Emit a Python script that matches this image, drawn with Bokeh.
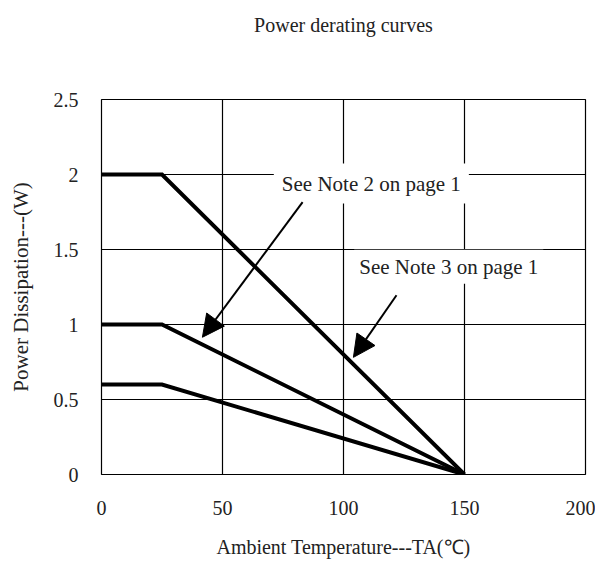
from bokeh.plotting import figure
from bokeh.models import Range1d, FixedTicker, Label, Arrow, NormalHead, LinearAxis
from bokeh.embed import file_html
from bokeh.resources import INLINE

# ---- data ----
temps = [0, 25, 150]
power_2w = [2.0, 2.0, 0.0]
power_1w = [1.0, 1.0, 0.0]
power_06w = [0.6, 0.6, 0.0]
x_ticks = [0, 50, 100, 150, 200]
y_ticks = [0, 0.5, 1.0, 1.5, 2.0, 2.5]
y_tick_labels = {0: "0", 0.5: "0.5", 1.0: "1", 1.5: "1.5", 2.0: "2", 2.5: "2.5"}
note2 = "See Note 2 on page 1"
note3 = "See Note 3 on page 1"
title_text = "Power derating curves"
y_label = "Power Dissipation---(W)"
x_label = "Ambient Temperature---TA(\u2103)"

FONT = "Liberation Serif"

p = figure(width=595, height=562, output_backend="svg", toolbar_location=None,
           x_range=Range1d(0, 200), y_range=Range1d(0, 2.5),
           min_border_left=101, min_border_right=10, min_border_top=99, min_border_bottom=88)
p.title.text = ""

xa = p.below[0]
ya = p.left[0]

# title drawn as the label of an empty axis above the frame
top_axis = LinearAxis(ticker=FixedTicker(ticks=[]), axis_label=title_text,
                      axis_line_color=None, major_tick_line_color=None, minor_tick_line_color=None,
                      major_tick_out=0, major_tick_in=0, minor_tick_out=0, minor_tick_in=0,
                      major_label_standoff=0, major_label_text_font_size="0px",
                      axis_label_text_font=FONT, axis_label_text_font_size="20px",
                      axis_label_text_font_style="normal", axis_label_text_color="#222222",
                      axis_label_standoff=64)
p.add_layout(top_axis, "above")

p.background_fill_color = "white"
p.border_fill_color = "white"
p.outline_line_color = "black"
p.outline_line_width = 1.2

for ax in (xa, ya):
    ax.axis_line_color = None
    ax.major_tick_line_color = None
    ax.minor_tick_line_color = None
    ax.major_label_text_font = FONT
    ax.major_label_text_font_size = "20px"
    ax.major_label_text_color = "#222222"

xa.ticker = FixedTicker(ticks=x_ticks)
ya.ticker = FixedTicker(ticks=y_ticks)
ya.major_label_overrides = y_tick_labels
xa.major_label_standoff = 20
ya.major_label_standoff = 17

ya.axis_label = y_label
ya.axis_label_text_font = FONT
ya.axis_label_text_font_size = "21px"
ya.axis_label_text_font_style = "normal"
ya.axis_label_text_color = "#222222"
ya.axis_label_standoff = 18

xa.axis_label = x_label
xa.axis_label_text_font = FONT
xa.axis_label_text_font_size = "20px"
xa.axis_label_text_font_style = "normal"
xa.axis_label_text_color = "#222222"
xa.axis_label_standoff = 18

p.xgrid[0].ticker = FixedTicker(ticks=x_ticks)
p.ygrid[0].ticker = FixedTicker(ticks=y_ticks)
for g in (p.xgrid[0], p.ygrid[0]):
    g.grid_line_color = "black"
    g.grid_line_width = 1.2
    g.grid_line_alpha = 1.0

# curves
for ys in (power_2w, power_1w, power_06w):
    p.line(temps, ys, line_color="black", line_width=4, line_join="miter")

# note labels with white background
p.add_layout(Label(x=111.5, y=1.94, text=note2, text_align="center", text_baseline="middle",
                   text_font=FONT, text_font_size="21px", text_color="#222222",
                   background_fill_color="white", padding=8))
p.add_layout(Label(x=143.5, y=1.385, text=note3, text_align="center", text_baseline="middle",
                   text_font=FONT, text_font_size="21px", text_color="#222222",
                   background_fill_color="white", padding=5))

# arrows
p.add_layout(Arrow(end=NormalHead(size=22, fill_color="black", line_color="black"),
                   x_start=83.1, y_start=1.816, x_end=41.7, y_end=0.915,
                   line_color="black", line_width=2))
p.add_layout(Arrow(end=NormalHead(size=22, fill_color="black", line_color="black"),
                   x_start=121.9, y_start=1.195, x_end=104.1, y_end=0.781,
                   line_color="black", line_width=2))

open("out.html", "w").write(file_html(p, INLINE))
